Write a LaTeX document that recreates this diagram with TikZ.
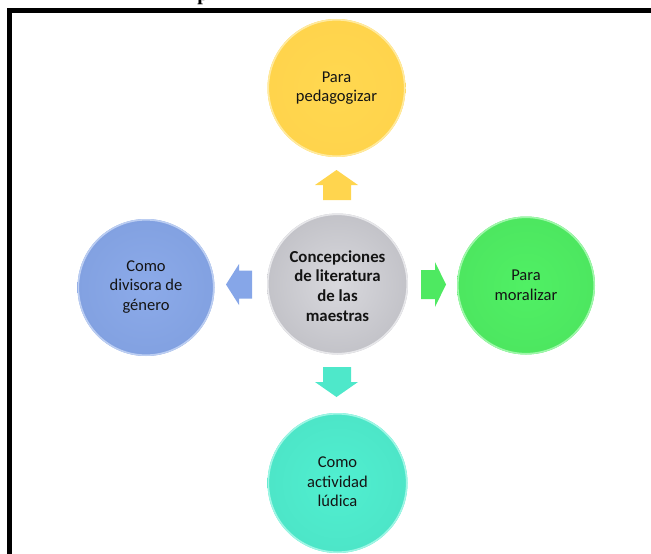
\documentclass[tikz,border=0pt]{standalone}
\usepackage{fontspec}
\setmainfont{Carlito}
\newfontfamily\headfont{Liberation Serif}
\begin{document}
\begin{tikzpicture}[x=1pt,y=-1pt,
  bubble/.style={circle, minimum size=138pt, inner sep=0pt, align=center,
    text=black!92, font=\fontsize{16.5}{19.5}\selectfont},
  hub/.style={bubble, minimum size=141pt, font=\bfseries\fontsize{16.8}{19.8}\selectfont},
  rim/.style={line width=1.6pt},
  frameline/.style={line width=5pt, black}
]
\definecolor{cyellow}{RGB}{255,216,80}
\definecolor{cgray}{RGB}{207,207,213}
\definecolor{cgreen}{RGB}{80,240,100}
\definecolor{cblue}{RGB}{134,166,232}
\definecolor{cteal}{RGB}{80,239,208}
\useasboundingbox (0,0) rectangle (651,554);

% cut-off heading above the frame
\node[anchor=base, inner sep=0pt, font=\headfont\bfseries\fontsize{20}{20}\selectfont] (head) at (203,0.5) {p};

% open frame: left and top edges
\coordinate (fbl) at (9.5,560);
\coordinate (ftl) at (9.5,10.5);
\coordinate (ftr) at (660,10.5);
\draw[frameline] (fbl) -- (ftl) -- (ftr);

% circles
\shade[inner color=cyellow, outer color=cyellow!95!orange] (336.5,88) circle (69);
\draw[rim, draw=cyellow!55!white] (336.5,88) circle (68.2);
\shade[inner color=cgray!80!white, outer color=cgray!94!black] (337.5,284) circle (70.5);
\draw[rim, draw=cgray!50!white] (337.5,284) circle (69.7);
\shade[inner color=cgreen, outer color=cgreen!96!black] (526,285.5) circle (69);
\draw[rim, draw=cgreen!55!white] (526,285.5) circle (68.2);
\shade[inner color=cblue!95!white, outer color=cblue!97!black] (146,287.5) circle (68.5);
\draw[rim, draw=cblue!55!white] (146,287.5) circle (67.7);
\shade[inner color=cteal, outer color=cteal!96!black] (337.5,483) circle (70);
\draw[rim, draw=cteal!55!white] (337.5,483) circle (69.2);

% labels
\node[bubble] (top) at (336.5,88) {Para\\pedagogizar};
\node[hub] (center) at (337.5,286) {Concepciones\\de literatura\\de las\\maestras};
\node[bubble] (right) at (526,285.5) {Para\\moralizar};
\node[bubble] (left) at (146,287) {Como\\divisora de\\género};
\node[bubble] (bottom) at (337.5,482) {Como\\actividad\\lúdica};

% block arrows pointing outward from the hub
\fill[cyellow!97!orange] (323,200) -- (351,200) -- (351,185) -- (358,185) -- (336.5,170)
  -- (315,185) -- (323,185) -- cycle;
\fill[cteal!97!black] (323,367) -- (351,367) -- (351,382) -- (358,382) -- (336.5,397)
  -- (315,382) -- (323,382) -- cycle;
\fill[cblue] (252,270.5) -- (252,298.5) -- (239,298.5) -- (239,305) -- (226,284.5)
  -- (239,264) -- (239,270.5) -- cycle;
\fill[cgreen!97!black] (421,270) -- (421,299) -- (435,299) -- (435,307) -- (446,284.5)
  -- (435,262) -- (435,270) -- cycle;
\end{tikzpicture}
\end{document}
